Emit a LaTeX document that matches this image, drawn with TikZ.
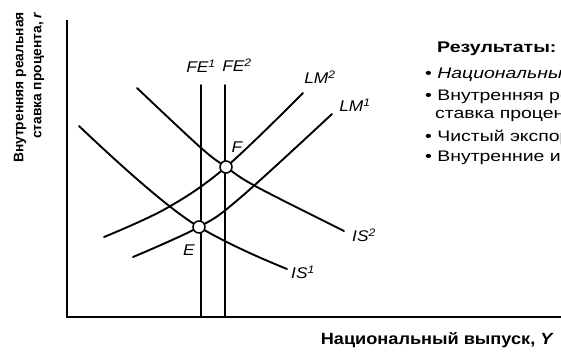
\documentclass[tikz,border=0pt]{standalone}
\usepackage{fontspec}
\setmainfont{Liberation Sans}[FakeStretch=1.12]
\newfontfamily\plainsans{Liberation Sans}
\newfontfamily\widesans{Liberation Sans}[FakeStretch=1.27]
\begin{document}
\begin{tikzpicture}[x=1pt,y=-1pt,
  curve/.style={line width=1.9pt,line cap=round},
  axis/.style={line width=1.1pt},
  pt/.style={circle,draw,fill=white,line width=1.5pt,minimum size=12pt,inner sep=0pt},
  lbl/.style={font=\itshape\fontsize{15.5}{17}\selectfont,inner sep=0pt},
  res/.style={font=\widesans\fontsize{15.3}{18}\selectfont,anchor=west,inner sep=0pt},
  ax/.style={font=\bfseries\fontsize{16.2}{18}\selectfont,inner sep=0pt}]
\useasboundingbox (0,0) rectangle (561,352);
% axes
\coordinate (O) at (67,317);
\coordinate (Ytop) at (67,20);
\coordinate (Xend) at (561,317);
\draw[axis] (Ytop) -- (O) -- (Xend);
% FE lines
\coordinate (fe1t) at (201,85); \coordinate (fe1b) at (201,317);
\coordinate (fe2t) at (225,85); \coordinate (fe2b) at (225,317);
\draw[curve] (fe1t) -- (fe1b);
\draw[curve] (fe2t) -- (fe2b);
% equilibrium points (coordinates)
\coordinate (Fc) at (226,167);
\coordinate (Ec) at (199,227);
% IS curves
\draw[curve] plot[smooth,tension=0.6] coordinates {(137,88) (200,147) (226,167) (257,187) (344,231)};
\draw[curve] (79,126) .. controls (120,165) and (170,210) .. (Ec)
             .. controls (228,244) and (260,258) .. (287,269);
% LM curves
\draw[curve] plot[smooth,tension=0.6] coordinates {(104,237) (167,208) (226,167) (303,93)};
\draw[curve] plot[smooth,tension=0.6] coordinates {(133,257) (199,227) (240,198) (332,114)};
% equilibria
\node[pt] (F) at (Fc) {};
\node[pt] (E) at (Ec) {};
\node[lbl] (Fl) at (237,147) {F};
\node[lbl] (El) at (189,250) {E};
% curve labels
\node[lbl] (fe1l) at (201,66) {FE\textsuperscript{1}};
\node[lbl] (fe2l) at (237,65) {FE\textsuperscript{2}};
\node[lbl] (lm2l) at (320,77) {LM\textsuperscript{2}};
\node[lbl] (lm1l) at (355,105) {LM\textsuperscript{1}};
\node[lbl] (is2l) at (364,235) {IS\textsuperscript{2}};
\node[lbl] (is1l) at (303,272) {IS\textsuperscript{1}};
% axis labels
\node[font=\plainsans\bfseries\fontsize{13.8}{18}\selectfont,inner sep=0pt,rotate=90,anchor=east,align=right] (ylab) at (29,12) {Внутренняя реальная\\ставка процента, \textit{r}};
\node[ax,anchor=east] (xlab) at (554,340) {Национальный выпуск, \textit{Y}};
% results
\begin{scope}
\clip (0,0) rectangle (561,352);
\node[font=\widesans\bfseries\fontsize{15.4}{18}\selectfont,inner sep=0pt,anchor=west] (rt) at (437,49) {Результаты:};
\node[res] (r1) at (425,74) {• \textit{Национальный}};
\node[res] (r2) at (425,97) {• Внутренняя реальная};
\node[res] (r3) at (435,116) {ставка процента};
\node[res] (r4) at (425,137) {• Чистый экспорт};
\node[res] (r5) at (425,158) {• Внутренние инвестиции};
\end{scope}
\end{tikzpicture}
\end{document}
